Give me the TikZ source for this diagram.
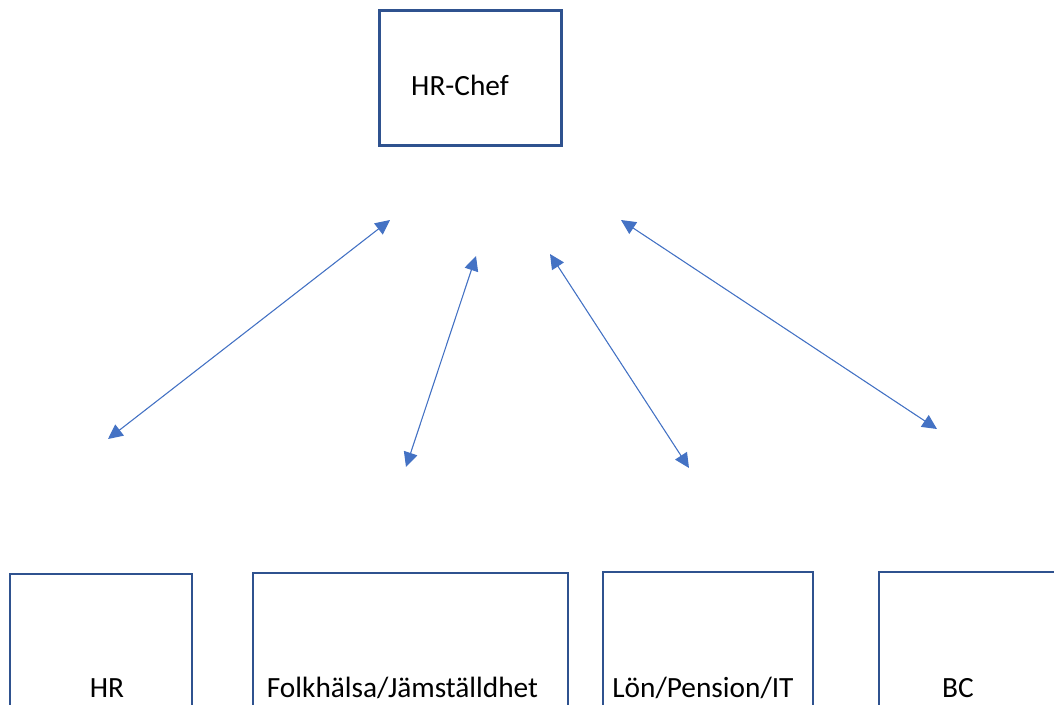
\documentclass[tikz,border=0pt]{standalone}
\usepackage{fontspec}
\setmainfont{Carlito}
\usetikzlibrary{arrows.meta,positioning}
\definecolor{boxline}{HTML}{2F528F}
\definecolor{link}{HTML}{4472C4}

\begin{document}
\begin{tikzpicture}[
    x=0.75pt, y=-0.75pt,
    unit/.style={draw=boxline, line width=1.8pt, fill=white, inner sep=0pt},
    lbl/.style={font=\fontsize{22}{26}\selectfont, inner sep=0pt, anchor=base},
    link/.style={{Triangle[length=11pt, width=10.5pt]}-{Triangle[length=11pt, width=10.5pt]}, draw=link, fill=link, line width=0.8pt}
  ]
    \useasboundingbox (0,0) rectangle (1054,704);
    \clip (0,0) rectangle (1054,704);
    % top box
    \node[unit, minimum width=182*0.75pt, minimum height=135*0.75pt] (chef) at (470.5,78) {};
    \node[lbl] (chefT) at (460,95) {HR-Chef};
    % bottom boxes, cut by the lower edge
    \node[unit, minimum width=182*0.75pt, minimum height=200*0.75pt] (hr) at (101,674) {};
    \node[unit, minimum width=315*0.75pt, minimum height=200*0.75pt] (folk) at (410.5,673) {};
    \node[unit, minimum width=210*0.75pt, minimum height=200*0.75pt] (lon) at (708,672) {};
    \node[unit, minimum width=210*0.75pt, minimum height=200*0.75pt] (bc) at (984,672) {};
    \node[lbl] (hrT) at (107,697) {HR};
    \node[lbl] (folkT) at (402.5,697) {Folkhälsa/Jämställdhet};
    \node[lbl] (lonT) at (703,697) {Lön/Pension/IT};
    \node[lbl] (bcT) at (958,697) {BC};
    % free arrow ends
    \coordinate (a1) at (390,220);  \coordinate (b1) at (108,439);
    \coordinate (a2) at (476,256);  \coordinate (b2) at (406,467);
    \coordinate (a3) at (550,254);  \coordinate (b3) at (689,468);
    \coordinate (a4) at (621,220);  \coordinate (b4) at (937,429);
    \draw[link] (a1) -- (b1);
    \draw[link] (a2) -- (b2);
    \draw[link] (a3) -- (b3);
    \draw[link] (a4) -- (b4);
\end{tikzpicture}
\end{document}
